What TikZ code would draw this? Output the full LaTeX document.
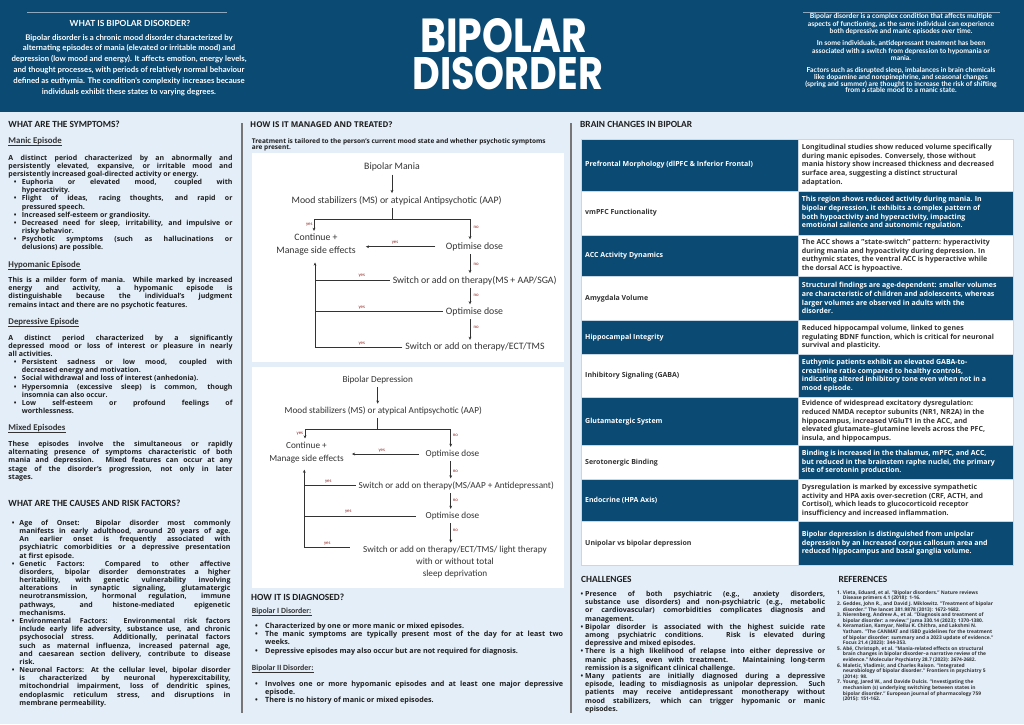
\documentclass[tikz,border=0pt]{standalone}
\usepackage{fontspec}
\usepackage{graphicx}
\usetikzlibrary{arrows.meta}
\setmainfont{Open Sans}
\newfontfamily\cf{Carlito}
\newfontfamily\pf{Poppins}
\newfontfamily\lf{Lato}
\definecolor{hdr}{HTML}{0B4A73}
\definecolor{bgc}{HTML}{E4EEF8}
\definecolor{txt}{HTML}{1E1E1E}
\definecolor{ftx}{HTML}{333333}
\definecolor{redc}{HTML}{8C1D1D}
\definecolor{divc}{HTML}{767676}
\definecolor{cellb}{HTML}{C9D6E3}
\definecolor{hline}{HTML}{8FA8BE}
\newlength\LW \newlength\BI \newlength\BO
\newcommand\jl[1]{\hbox to\LW{#1}}
\newcommand\el[1]{\hbox to\LW{#1\hfil}}
\newcommand\bj[1]{\hbox to\LW{\hbox to\BI{\hskip\BO\relax\textbullet\hss}#1}}
\newcommand\be[1]{\hbox to\LW{\hbox to\BI{\hskip\BO\relax\textbullet\hss}#1\hfil}}
\newcommand\cj[1]{\hbox to\LW{\hskip\BI\relax #1}}
\newcommand\ce[1]{\hbox to\LW{\hskip\BI\relax #1\hfil}}
\newcommand\nl[2]{\hbox to\LW{\hbox to\BI{\hskip\BO\relax #1\hss}#2\hfil}}
\newcommand\blk[5]{\parbox[t]{#1}{\setlength\LW{#1}\setlength\BI{#2}\setlength\BO{#3}\baselineskip=#4\relax\lineskiplimit=-10pt\relax #5}}
\newcommand\blkc[3]{\parbox[c]{#1}{\setlength\LW{#1}\baselineskip=#2\relax\lineskiplimit=-10pt\relax #3}}
\newcommand\tabf{\fontsize{7}{8.6}\selectfont\bfseries}
\tikzset{
 body/.style={anchor=base west, inner sep=0, text=txt, font=\fontsize{7}{8.2}\selectfont\bfseries},
 sechead/.style={anchor=base west, inner sep=0, text=txt, font=\cf\fontsize{9.4}{10}\selectfont\bfseries},
 subhead/.style={anchor=base west, inner sep=0, text=ftx, font=\cf\fontsize{8.8}{10}\selectfont\bfseries},
 uline/.style={draw=ftx, line width=0.5pt},
 flowm/.style={inner sep=3pt, text=ftx, font=\cf\fontsize{9.8}{12.7}\selectfont, align=center},
 flowd/.style={inner sep=3pt, text=ftx, font=\cf\fontsize{9.2}{13.3}\selectfont, align=center},
 lab/.style={inner sep=0, text=redc, font=\cf\fontsize{4.8}{5}\selectfont},
 conn/.style={draw=ftx, line width=0.6pt},
 arr/.style={conn, -{Stealth[length=3.2pt,width=2.8pt]}},
 cellD/.style={fill=hdr, draw=cellb, line width=0.7pt},
 cellW/.style={fill=white, draw=cellb, line width=0.7pt},
 tD/.style={anchor=west, inner sep=0, text=white, font=\tabf},
 tW/.style={anchor=west, inner sep=0, text=ftx, font=\tabf},
}
\begin{document}
\begin{tikzpicture}[x=1pt,y=-1pt]
\useasboundingbox (0,0) rectangle (1024,724);
\fill[bgc] (0,0) rectangle (1024,724);
\fill[hdr] (0,0) rectangle (1024,111.7);
% header
\draw[hline, line width=0.8pt] (27,12) -- (227,12);
\draw[hline, line width=0.8pt] (803,12) -- (1000,12);
\node[anchor=base, inner sep=0, text=white, font=\lf\bfseries\fontsize{8.4}{10}\selectfont] (wh) at (130,26.7) {WHAT IS BIPOLAR DISORDER?};
\node[anchor=base, inner sep=0, text=white, font=\lf\bfseries\fontsize{7.8}{10.9}\selectfont] (whp) at (129,40) {\parbox[t]{280pt}{\centering\baselineskip=10.9pt Bipolar disorder is a chronic mood disorder characterized by\\alternating episodes of mania (elevated or irritable mood) and\\depression (low mood and energy). It affects emotion, energy levels,\\and thought processes, with periods of relatively normal behaviour\\defined as euthymia. The condition's complexity increases because\\individuals exhibit these states to varying degrees.}};
\node[anchor=north west, inner sep=0, text=white] (tt) at (412.3,18.6) {\vbox{\baselineskip=0pt\lineskip=3.6pt\lineskiplimit=100pt
\hbox to 192pt{\hskip7.7pt\resizebox{166.7pt}{34pt}{\pf\bfseries BIPOLAR}\hss}
\hbox to 192pt{\resizebox{190.4pt}{32.4pt}{\pf\bfseries DISORDER}\hss}}};
\node[anchor=base, inner sep=0, text=white, font=\lf\bfseries\fontsize{6.9}{7.6}\selectfont] (rp1) at (901,18.5) {\parbox[t]{260pt}{\centering\baselineskip=7.6pt Bipolar disorder is a complex condition that affects multiple\\aspects of functioning, as the same individual can experience\\both depressive and manic episodes over time.}};
\node[anchor=base, inner sep=0, text=white, font=\lf\bfseries\fontsize{6.9}{7.4}\selectfont] (rp2) at (901,45.8) {\parbox[t]{260pt}{\centering\baselineskip=7.4pt In some individuals, antidepressant treatment has been\\associated with a switch from depression to hypomania or\\mania.}};
\node[anchor=base, inner sep=0, text=white, font=\lf\bfseries\fontsize{6.9}{6.8}\selectfont] (rp3) at (901,72.5) {\parbox[t]{260pt}{\centering\baselineskip=6.8pt Factors such as disrupted sleep, imbalances in brain chemicals\\like dopamine and norepinephrine, and seasonal changes\\(spring and summer) are thought to increase the risk of shifting\\from a stable mood to a manic state.}};
% dividers
\fill[divc] (240.7,123) rectangle (242.7,713);
\fill[divc] (570,123) rectangle (572,713);
% ---------------- left column
\node[sechead] (hs) at (8.3,127.3) {WHAT ARE THE SYMPTOMS?};
\node[subhead] (sh1) at (8.3,143.7) {Manic Episode};
\draw[uline] ([yshift=-1.8pt]sh1.base west) -- ([yshift=-1.8pt]sh1.base east);
\node[body] (s1) at (8.3,160.3) {\blk{224pt}{13.4pt}{5.5pt}{8.13pt}{%
\jl{A distinct period characterized by an abnormally and}
\jl{persistently elevated, expansive, or irritable mood and}
\el{persistently increased goal-directed activity or energy.}
\bj{Euphoria or elevated mood, coupled with}
\ce{hyperactivity.}
\bj{Flight of ideas, racing thoughts, and rapid or}
\ce{pressured speech.}
\be{Increased self-esteem or grandiosity.}
\bj{Decreased need for sleep, irritability, and impulsive or}
\ce{risky behavior.}
\bj{Psychotic symptoms (such as hallucinations or}
\ce{delusions) are possible.}}};
\node[subhead] (sh2) at (8.3,267) {Hypomanic Episode};
\draw[uline] ([yshift=-1.8pt]sh2.base west) -- ([yshift=-1.8pt]sh2.base east);
\node[body] (s2) at (8.3,282.7) {\blk{224pt}{13.4pt}{5.5pt}{8.1pt}{%
\jl{This is a milder form of mania. While marked by increased}
\jl{energy and activity, a hypomanic episode is}
\jl{distinguishable because the individual's judgment}
\el{remains intact and there are no psychotic features.}}};
\node[subhead] (sh3) at (8.3,324.3) {Depressive Episode};
\draw[uline] ([yshift=-1.8pt]sh3.base west) -- ([yshift=-1.8pt]sh3.base east);
\node[body] (s3) at (8.3,340) {\blk{224pt}{13.4pt}{5.5pt}{8.18pt}{%
\jl{A distinct period characterized by a significantly}
\jl{depressed mood or loss of interest or pleasure in nearly}
\el{all activities.}
\bj{Persistent sadness or low mood, coupled with}
\ce{decreased energy and motivation.}
\be{Social withdrawal and loss of interest (anhedonia).}
\bj{Hypersomnia (excessive sleep) is common, though}
\ce{insomnia can also occur.}
\bj{Low self-esteem or profound feelings of}
\ce{worthlessness.}}};
\node[subhead] (sh4) at (8.3,430.7) {Mixed Episodes};
\draw[uline] ([yshift=-1.8pt]sh4.base west) -- ([yshift=-1.8pt]sh4.base east);
\node[body] (s4) at (8.3,446.7) {\blk{224pt}{13.4pt}{5.5pt}{8.1pt}{%
\jl{These episodes involve the simultaneous or rapidly}
\jl{alternating presence of symptoms characteristic of both}
\jl{mania and depression. Mixed features can occur at any}
\jl{stage of the disorder's progression, not only in later}
\el{stages.}}};
\node[sechead] (hc) at (8.3,506.7) {WHAT ARE THE CAUSES AND RISK FACTORS?};
\node[body] (s5) at (8.3,525.3) {\blk{222pt}{11pt}{3.3pt}{8.18pt}{%
\bj{Age of Onset: Bipolar disorder most commonly}
\cj{manifests in early adulthood, around 20 years of age.}
\cj{An earlier onset is frequently associated with}
\cj{psychiatric comorbidities or a depressive presentation}
\ce{at first episode.}
\bj{Genetic Factors: Compared to other affective}
\cj{disorders, bipolar disorder demonstrates a higher}
\cj{heritability, with genetic vulnerability involving}
\cj{alterations in synaptic signaling, glutamatergic}
\cj{neurotransmission, hormonal regulation, immune}
\cj{pathways, and histone-mediated epigenetic}
\ce{mechanisms.}
\bj{Environmental Factors: Environmental risk factors}
\cj{include early life adversity, substance use, and chronic}
\cj{psychosocial stress. Additionally, perinatal factors}
\cj{such as maternal influenza, increased paternal age,}
\cj{and caesarean section delivery, contribute to disease}
\ce{risk.}
\bj{Neuronal Factors: At the cellular level, bipolar disorder}
\cj{is characterized by neuronal hyperexcitability,}
\cj{mitochondrial impairment, loss of dendritic spines,}
\cj{endoplasmic reticulum stress, and disruptions in}
\ce{membrane permeability.}}};
% ---------------- middle column
\node[anchor=base west, inner sep=0, text=txt, font=\fontsize{8}{9}\selectfont\bfseries] (hm) at (250,127.7) {HOW IS IT MANAGED AND TREATED?};
\node[anchor=base west, inner sep=0, text=txt, font=\fontsize{6.5}{6.7}\selectfont\bfseries] (tn) at (251.7,143) {\blk{310pt}{0pt}{0pt}{6.6pt}{%
\el{Treatment is tailored to the person's current mood state and whether psychotic symptoms}
\el{are present.}}};
\fill[white] (251.7,153.3) rectangle (563.5,361.7);
\fill[white] (251.7,366.7) rectangle (563.5,588.3);
% mania chart
\node[flowm] (m1) at (392,167.3) {Bipolar Mania};
\node[flowm] (m2) at (396.7,200.7) {Mood stabilizers (MS) or atypical Antipsychotic (AAP)};
\node[flowm] (m3) at (316,244.7) {Continue +\\Manage side effects};
\node[flowm] (m4) at (474.5,246.7) {Optimise dose};
\node[flowm] (m5) at (474.7,280.7) {Switch or add on therapy(MS + AAP/SGA)};
\node[flowm] (m6) at (474.5,311.7) {Optimise dose};
\node[flowm] (m7) at (475,347.3) {Switch or add on therapy/ECT/TMS};
\coordinate (ma) at (392,219.3);
\coordinate (mL) at (314,219.3);
\coordinate (mR) at (470,219.3);
\coordinate (mF) at (315,347.3);
\draw[arr] (m1.south) -- (m1.south |- m2.north);
\draw[conn] (m2.south -| ma) -- (ma);
\draw[conn] (mL) -- (mR);
\draw[arr] (mL) -- (mL |- m3.north);
\draw[arr] (mR) -- (mR |- m4.north);
\draw[arr] ([xshift=-7.5pt]m4.west) -- ([xshift=7pt]m4.west -| m3.east);
\draw[arr] (mR |- m4.south) -- (mR |- m5.north);
\draw[arr] (mR |- m5.south) -- (mR |- m6.north);
\draw[arr] (mR |- m6.south) -- (mR |- m7.north);
\draw[conn] (m5.west) -- (m5.west -| mF);
\draw[conn] (m6.west) -- (m6.west -| mF);
\draw[conn] (m7.west) -- (mF);
\draw[arr] (mF) -- ([yshift=-4pt]mF |- m3.south);
\node[lab, anchor=east] (ly1) at (312.7,224.3) {yes};
\node[lab, anchor=west] (ln1) at (473.3,227.3) {no};
\node[lab] (ly2) at (395,242.7) {yes};
\node[lab, anchor=west] (ln2) at (473.3,264) {no};
\node[lab] (ly3) at (361.7,275.3) {yes};
\node[lab, anchor=west] (ln3) at (473.3,295.7) {no};
\node[lab] (ly4) at (361.7,308) {yes};
\node[lab, anchor=west] (ln4) at (473.3,327.3) {no};
\node[lab] (ly5) at (361.7,343.3) {yes};
% depression chart
\node[flowd] (d1) at (377.7,380) {Bipolar Depression};
\node[flowd] (d2) at (383.3,411) {Mood stabilizers (MS) or atypical Antipsychotic (AAP)};
\node[flowd] (d3) at (306.5,452.3) {Continue +\\Manage side effects};
\node[flowd] (d4) at (452.5,454) {Optimise dose};
\node[flowd] (d5) at (456.3,485.7) {Switch or add on therapy(MS/AAP + Antidepressant)};
\node[flowd] (d6) at (452.5,516) {Optimise dose};
\node[flowd, font=\cf\fontsize{9.2}{12.2}\selectfont] (d7) at (455,562) {Switch or add on therapy/ECT/TMS/ light therapy\\with or without total\\sleep deprivation};
\coordinate (da) at (377.7,429);
\coordinate (dL) at (305,429);
\coordinate (dR) at (450.7,429);
\coordinate (dF) at (304.3,547.7);
\draw[arr] (d1.south) -- (d1.south |- d2.north);
\draw[conn] (d2.south -| da) -- (da);
\draw[conn] (dL) -- (dR);
\draw[arr] (dL) -- (dL |- d3.north);
\draw[arr] (dR) -- (dR |- d4.north);
\draw[arr] ([xshift=-4pt]d4.west) -- ([xshift=5pt]d4.west -| d3.east);
\draw[arr] (dR |- d4.south) -- (dR |- d5.north);
\draw[arr] (dR |- d5.south) -- (dR |- d6.north);
\draw[arr] (dR |- d6.south) -- (dR |- d7.north);
\draw[conn] (d5.west) -- (d5.west -| dF);
\draw[conn] ([xshift=-7pt]d6.west) -- (d6.west -| dF);
\draw[conn] (dF) -- ([xshift=-10pt]dF -| d7.west);
\draw[arr] (dF) -- ([yshift=-3.5pt]dF |- d3.south);
\node[lab, anchor=east] (dy1) at (303.3,434) {yes};
\node[lab, anchor=west] (dn1) at (452.7,435) {no};
\node[lab] (dy2) at (381.7,450.7) {yes};
\node[lab, anchor=west] (dn2) at (452.7,471.7) {no};
\node[lab] (dy3) at (328.3,481.7) {yes};
\node[lab, anchor=west] (dn3) at (452.7,500.7) {no};
\node[lab] (dy4) at (348.3,511.7) {yes};
\node[lab, anchor=west] (dn4) at (452.7,530) {no};
\node[lab] (dy5) at (327.3,544) {yes};
% diagnosis
\node[sechead] (hd) at (251,600.7) {HOW IT IS DIAGNOSED?};
\node[subhead, font=\cf\fontsize{7.9}{9}\selectfont\bfseries] (sh5) at (251.7,613.3) {Bipolar I Disorder:};
\draw[uline] ([yshift=-1.6pt]sh5.base west) -- ([yshift=-1.6pt]sh5.base east);
\node[body, font=\fontsize{7.2}{8.3}\selectfont\bfseries] (g1) at (252,628.2) {\blk{311pt}{13pt}{3pt}{8.33pt}{%
\be{Characterized by one or more manic or mixed episodes.}
\bj{The manic symptoms are typically present most of the day for at least two}
\ce{weeks.}
\be{Depressive episodes may also occur but are not required for diagnosis.}}};
\node[subhead, font=\cf\fontsize{7.9}{9}\selectfont\bfseries] (sh6) at (251.7,670.7) {Bipolar II Disorder:};
\draw[uline] ([yshift=-1.6pt]sh6.base west) -- ([yshift=-1.6pt]sh6.base east);
\node[body, font=\fontsize{7.2}{8.3}\selectfont\bfseries] (g2) at (252,686.2) {\blk{311pt}{13pt}{3pt}{8pt}{%
\bj{Involves one or more hypomanic episodes and at least one major depressive}
\ce{episode.}
\be{There is no history of manic or mixed episodes.}}};
% ---------------- right column
\node[sechead] (hb) at (580,127.3) {BRAIN CHANGES IN BIPOLAR};
% row 1
\path[cellD] (581.7,139) rectangle (798.3,191);
\path[cellW] (798.3,139) rectangle (1013.3,191);
\node[tD] (a1) at (585,165) {Prefrontal Morphology (dlPFC \& Inferior Frontal)};
\node[tW] (b1) at (801.7,165) {\blkc{208pt}{8.6pt}{%
\el{Longitudinal studies show reduced volume specifically}
\el{during manic episodes. Conversely, those without}
\el{mania history show increased thickness and decreased}
\el{surface area, suggesting a distinct structural}
\el{adaptation.}}};
% row 2
\path[cellW] (581.7,191) rectangle (798.3,235);
\path[cellD] (798.3,191) rectangle (1013.3,235);
\node[tW] (a2) at (585,213) {vmPFC Functionality};
\node[tD] (b2) at (801.7,213) {\blkc{208pt}{8.6pt}{%
\el{This region shows reduced activity during mania. In}
\el{bipolar depression, it exhibits a complex pattern of}
\el{both hypoactivity and hyperactivity, impacting}
\el{emotional salience and autonomic regulation.}}};
% row 3
\path[cellD] (581.7,235) rectangle (798.3,276.3);
\path[cellW] (798.3,235) rectangle (1013.3,276.3);
\node[tD] (a3) at (585,255.7) {ACC Activity Dynamics};
\node[tW] (b3) at (801.7,255.7) {\blkc{208pt}{8.6pt}{%
\el{The ACC shows a "state-switch" pattern: hyperactivity}
\el{during mania and hypoactivity during depression. In}
\el{euthymic states, the ventral ACC is hyperactive while}
\el{the dorsal ACC is hypoactive.}}};
% row 4
\path[cellW] (581.7,276.3) rectangle (798.3,320);
\path[cellD] (798.3,276.3) rectangle (1013.3,320);
\node[tW] (a4) at (585,298.2) {Amygdala Volume};
\node[tD] (b4) at (801.7,298.2) {\blkc{208pt}{8.6pt}{%
\el{Structural findings are age-dependent: smaller volumes}
\el{are characteristic of children and adolescents, whereas}
\el{larger volumes are observed in adults with the}
\el{disorder.}}};
% row 5
\path[cellD] (581.7,320) rectangle (798.3,354.3);
\path[cellW] (798.3,320) rectangle (1013.3,354.3);
\node[tD] (a5) at (585,337.2) {Hippocampal Integrity};
\node[tW] (b5) at (801.7,337.2) {\blkc{208pt}{8.6pt}{%
\el{Reduced hippocampal volume, linked to genes}
\el{regulating BDNF function, which is critical for neuronal}
\el{survival and plasticity.}}};
% row 6
\path[cellW] (581.7,354.3) rectangle (798.3,397.3);
\path[cellD] (798.3,354.3) rectangle (1013.3,397.3);
\node[tW] (a6) at (585,375.8) {Inhibitory Signaling (GABA)};
\node[tD] (b6) at (801.7,375.8) {\blkc{208pt}{8.6pt}{%
\el{Euthymic patients exhibit an elevated GABA-to-}
\el{creatinine ratio compared to healthy controls,}
\el{indicating altered inhibitory tone even when not in a}
\el{mood episode.}}};
% row 7
\path[cellD] (581.7,397.3) rectangle (798.3,445);
\path[cellW] (798.3,397.3) rectangle (1013.3,445);
\node[tD] (a7) at (585,421.2) {Glutamatergic System};
\node[tW] (b7) at (801.7,421.2) {\blkc{208pt}{8.6pt}{%
\el{Evidence of widespread excitatory dysregulation:}
\el{reduced NMDA receptor subunits (NR1, NR2A) in the}
\el{hippocampus, increased VGluT1 in the ACC, and}
\el{elevated glutamate–glutamine levels across the PFC,}
\el{insula, and hippocampus.}}};
% row 8
\path[cellW] (581.7,445) rectangle (798.3,479.3);
\path[cellD] (798.3,445) rectangle (1013.3,479.3);
\node[tW] (a8) at (585,462.2) {Serotonergic Binding};
\node[tD] (b8) at (801.7,462.2) {\blkc{208pt}{8.6pt}{%
\el{Binding is increased in the thalamus, mPFC, and ACC,}
\el{but reduced in the brainstem raphe nuclei, the primary}
\el{site of serotonin production.}}};
% row 9
\path[cellD] (581.7,479.3) rectangle (798.3,521.7);
\path[cellW] (798.3,479.3) rectangle (1013.3,521.7);
\node[tD] (a9) at (585,500.5) {Endocrine (HPA Axis)};
\node[tW] (b9) at (801.7,500.5) {\blkc{208pt}{8.6pt}{%
\el{Dysregulation is marked by excessive sympathetic}
\el{activity and HPA axis over-secretion (CRF, ACTH, and}
\el{Cortisol), which leads to glucocorticoid receptor}
\el{insufficiency and increased inflammation.}}};
% row 10
\path[cellW] (581.7,521.7) rectangle (798.3,565);
\path[cellD] (798.3,521.7) rectangle (1013.3,565);
\node[tW] (a10) at (585,543.3) {Unipolar vs bipolar depression};
\node[tD] (b10) at (801.7,543.3) {\blkc{208pt}{8.6pt}{%
\el{Bipolar depression is distinguished from unipolar}
\el{depression by an increased corpus callosum area and}
\el{reduced hippocampus and basal ganglia volume.}}};
% challenges
\node[sechead] (hch) at (581,582.7) {CHALLENGES};
\node[body] (c1) at (578,596.4) {\blk{247pt}{7pt}{2.5pt}{8.2pt}{%
\bj{Presence of both psychiatric (e.g., anxiety disorders,}
\cj{substance use disorders) and non-psychiatric (e.g., metabolic}
\cj{or cardiovascular) comorbidities complicates diagnosis and}
\ce{management.}
\bj{Bipolar disorder is associated with the highest suicide rate}
\cj{among psychiatric conditions. Risk is elevated during}
\ce{depressive and mixed episodes.}
\bj{There is a high likelihood of relapse into either depressive or}
\cj{manic phases, even with treatment. Maintaining long-term}
\ce{remission is a significant clinical challenge.}
\bj{Many patients are initially diagnosed during a depressive}
\cj{episode, leading to misdiagnosis as unipolar depression. Such}
\cj{patients may receive antidepressant monotherapy without}
\cj{mood stabilizers, which can trigger hypomanic or manic}
\ce{episodes.}}};
% references
\node[sechead] (hr) at (838.3,582) {REFERENCES};
\node[body, text=ftx, font=\fontsize{4.9}{5.6}\selectfont\bfseries] (rf) at (836,594.3) {\blk{178pt}{6.7pt}{1pt}{5.6pt}{%
\nl{1.}{Vieta, Eduard, et al. "Bipolar disorders." Nature reviews}
\ce{Disease primers 4.1 (2018): 1-16.}
\nl{2.}{Geddes, John R., and David J. Miklowitz. "Treatment of bipolar}
\ce{disorder." The lancet 381.9878 (2013): 1672-1682.}
\nl{3.}{Nierenberg, Andrew A., et al. "Diagnosis and treatment of}
\ce{bipolar disorder: a review." Jama 330.14 (2023): 1370-1380.}
\nl{4.}{Keramatian, Kamyar, Nellai K. Chithra, and Lakshmi N.}
\ce{Yatham. "The CANMAT and ISBD guidelines for the treatment}
\ce{of bipolar disorder: summary and a 2023 update of evidence."}
\ce{Focus 21.4 (2023): 344-353.}
\nl{5.}{Abé, Christoph, et al. "Mania-related effects on structural}
\ce{brain changes in bipolar disorder–a narrative review of the}
\ce{evidence." Molecular Psychiatry 28.7 (2023): 2674-2682.}
\nl{6.}{Maletic, Vladimir, and Charles Raison. "Integrated}
\ce{neurobiology of bipolar disorder." Frontiers in psychiatry 5}
\ce{(2014): 98.}
\nl{7.}{Young, Jared W., and Davide Dulcis. "Investigating the}
\ce{mechanism (s) underlying switching between states in}
\ce{bipolar disorder." European journal of pharmacology 759}
\ce{(2015): 151-162.}}};
\end{tikzpicture}
\end{document}
